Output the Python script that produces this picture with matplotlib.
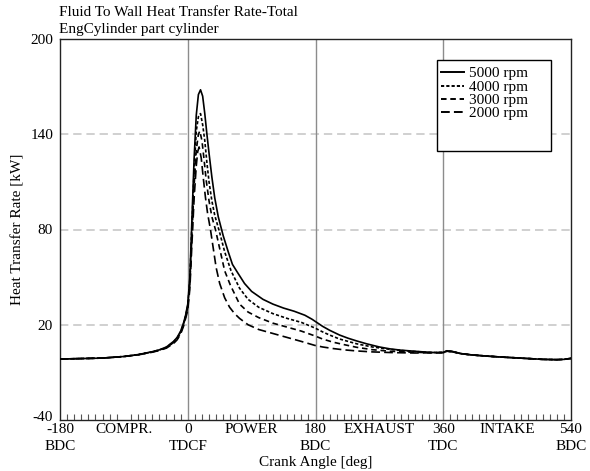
import matplotlib
matplotlib.use("Agg")
import matplotlib.pyplot as plt
import matplotlib.transforms as mtransforms
from matplotlib.patches import Rectangle
from matplotlib.lines import Line2D

plt.rcParams['font.family'] = ['Liberation Serif', 'DejaVu Serif']
plt.rcParams['lines.scale_dashes'] = False

# ---------------- data (crank angle [deg], heat transfer rate [kW]) ----------------
comp_angles = [-180, -150, -120, -90, -70, -50, -40, -30, -20, -15, -10, -6, -3]
comp_5000 = [-1.6, -1.3, -1.0, 0.0, 1.2, 3.0, 4.2, 6.0, 9.5, 12.0, 16.0, 21.0, 26.0]
comp_4000 = [-1.6, -1.3, -1.0, 0.0, 1.2, 3.0, 4.1, 5.8, 9.2, 11.6, 15.5, 20.5, 25.5]
comp_3000 = [-1.6, -1.3, -1.0, 0.0, 1.1, 2.9, 4.0, 5.6, 8.8, 11.0, 15.0, 20.0, 25.0]
comp_2000 = [-1.6, -1.3, -1.0, 0.0, 1.0, 2.7, 3.8, 5.3, 8.2, 10.5, 14.2, 19.0, 24.0]

mid_angles_5000 = [0, 3, 6, 9, 12, 15, 18, 21, 24, 27, 30, 34, 38, 43, 50, 57, 63, 70, 80, 90,
                   106, 120, 135, 150, 165, 175, 180, 190, 200, 214, 226, 238, 252, 270, 285,
                   300, 317, 335, 350, 360, 365, 372]
mid_5000 = [33, 50, 88, 125, 152, 165, 168, 164, 153, 140, 128, 113, 100, 88, 76, 66, 58, 53, 46,
            41, 36, 33, 30.5, 28.5, 26, 23.5, 22, 19, 16.5, 13.5, 11.5, 9.8, 8, 6, 4.8,
            4, 3.4, 2.8, 2.4, 2.6, 3.6, 3.3]

mid_angles_4000 = [0, 3, 6, 9, 12, 15, 18, 21, 24, 27, 30, 34, 38, 45, 52, 61, 73, 85, 100, 120,
                   140, 160, 179, 190, 200, 214, 238, 260, 285, 310, 340, 360, 365, 372]
mid_4000 = [32, 48, 84, 118, 142, 151, 153, 146, 136, 122, 110, 98, 89, 78, 66, 54, 43, 36, 31, 27,
            24, 21.5, 18, 15.5, 13.5, 11, 8, 6, 4.5, 3.4, 2.6, 2.5, 3.4, 3.2]

mid_angles_3000 = [0, 3, 6, 9, 12, 15, 17, 20, 23, 26, 30, 34, 39, 45, 52, 60, 73, 85, 100, 120,
                   140, 160, 179, 190, 205, 220, 238, 260, 285, 310, 340, 360, 365, 372]
mid_3000 = [31, 46, 78, 108, 130, 140, 142, 136, 124, 111, 98, 88, 80, 68, 54, 45, 33, 28, 24.5, 21,
            18.5, 16, 13, 11, 9, 7.5, 5.8, 4.3, 3.3, 2.8, 2.4, 2.5, 3.3, 3.1]

mid_angles_2000 = [0, 3, 6, 9, 12, 14, 16, 19, 22, 25, 28, 32, 36, 40, 45, 52, 59, 66, 73, 85, 100,
                   120, 140, 160, 179, 190, 205, 220, 238, 260, 285, 320, 360, 365, 372]
mid_2000 = [29, 43, 72, 100, 120, 129, 132, 125, 112, 100, 90, 80, 68, 56, 46, 37, 31, 27, 24, 20, 17,
            14.5, 12, 9.5, 7, 6, 5, 4.2, 3.5, 2.9, 2.5, 2.2, 2.4, 3.2, 3.0]

tail_angles = [385, 400, 420, 440, 460, 480, 500, 520, 530, 540]
tail_values = [1.8, 1.0, 0.3, -0.3, -0.8, -1.3, -1.8, -2.0, -1.8, -1.2]

series_labels = ['5000 rpm', '4000 rpm', '3000 rpm', '2000 rpm']

xtick_values = [-180, -90, 0, 90, 180, 270, 360, 450, 540]
xtick_labels = ['-180\nBDC', 'COMPR.', '0\nTDCF', 'POWER', '180\nBDC', 'EXHAUST', '360\nTDC',
                'INTAKE', '540\nBDC']
ytick_values = [-40, 20, 80, 140, 200]

# ---------------- figure ----------------
W, H = 590, 471
fig = plt.figure(figsize=(W / 100, H / 100), dpi=100)
ax_l, ax_r, ax_t, ax_b = 60, 571, 39, 420
ax = fig.add_axes([ax_l / W, 1 - ax_b / H, (ax_r - ax_l) / W, (ax_b - ax_t) / H])

def axfrac(px, py):
    return (px - ax_l) / (ax_r - ax_l), (ax_b - py) / (ax_b - ax_t)

fs = 11
for yv in ytick_values[1:-1]:
    ax.axhline(yv, color='#c4c4c4', lw=1.1, linestyle=(0, (6, 3.5)), zorder=1)
for xv in [0, 180, 360]:
    ax.axvline(xv, color='#8c8c8c', lw=1.0, zorder=1)

styles = ['-', (0, (2.3, 1.5)), (0, (4.0, 2.7)), (0, (6.3, 3.0))]
mids = [(mid_angles_5000, mid_5000), (mid_angles_4000, mid_4000),
        (mid_angles_3000, mid_3000), (mid_angles_2000, mid_2000)]
comps = [comp_5000, comp_4000, comp_3000, comp_2000]
for (ma, mv), cv, ls, lab in zip(mids, comps, styles, series_labels):
    xs = comp_angles + ma + tail_angles
    ys = cv + mv + tail_values
    ax.plot(xs, ys, color='black', lw=1.2, linestyle=ls, label=lab, zorder=3)

ax.set_xlim(-180, 540)
ax.set_ylim(-40, 200)
ax.set_xticks(xtick_values)
ax.set_xticklabels(xtick_labels, fontsize=fs)
for t in ax.get_xticklabels():
    t.set_linespacing(1.35)
ax.set_xticks(list(range(-170, 540, 10)), minor=True)
ax.tick_params(axis='x', which='major', length=0, pad=2.5)
ax.tick_params(axis='x', which='minor', direction='in', length=4, width=0.8, color='#555555')
ax.set_yticks(ytick_values)
ax.set_yticklabels([str(v) for v in ytick_values], fontsize=fs)
ax.tick_params(axis='y', which='major', length=0, pad=5)
ylabels = ax.get_yticklabels()
for t in ylabels:
    t.set_verticalalignment('center_baseline')
# lift the bottom "-40" a little, as in the reference
ylabels[0].set_transform(ylabels[0].get_transform() +
                         mtransforms.ScaledTranslation(0, 4 / 100, fig.dpi_scale_trans))
for sp in ax.spines.values():
    sp.set_color('#222222')
    sp.set_linewidth(1.0)

ax.set_xlabel('Crank Angle [deg]', fontsize=fs, labelpad=2)
ax.set_ylabel('Heat Transfer Rate [kW]', fontsize=fs, labelpad=4)

# legend box (drawn by hand to match the compact layout)
bx0, by0 = axfrac(437, 151)
bx1, by1 = axfrac(551, 60)
ax.add_patch(Rectangle((bx0, by0), bx1 - bx0, by1 - by0, transform=ax.transAxes,
                       facecolor='white', edgecolor='black', lw=1.0, zorder=5))
row_y = [72, 86, 99, 112]
for ls, lab, ry in zip(styles, series_labels, row_y):
    hx0, hy = axfrac(441, ry)
    hx1, _ = axfrac(464, ry)
    tx, ty = axfrac(469, ry + 1.5)
    ax.add_line(Line2D([hx0, hx1], [hy, hy], transform=ax.transAxes, color='black',
                       lw=1.4, linestyle=ls, zorder=6))
    ax.text(tx, ty, lab, transform=ax.transAxes, fontsize=fs, va='center', ha='left',
            zorder=6)

fig.text(59 / W, 1 - 13 / H, 'Fluid To Wall Heat Transfer Rate-Total', fontsize=fs,
         va='center', ha='left')
fig.text(59 / W, 1 - 29 / H, 'EngCylinder part cylinder', fontsize=fs,
         va='center', ha='left')

fig.savefig('out.png', dpi=100)
